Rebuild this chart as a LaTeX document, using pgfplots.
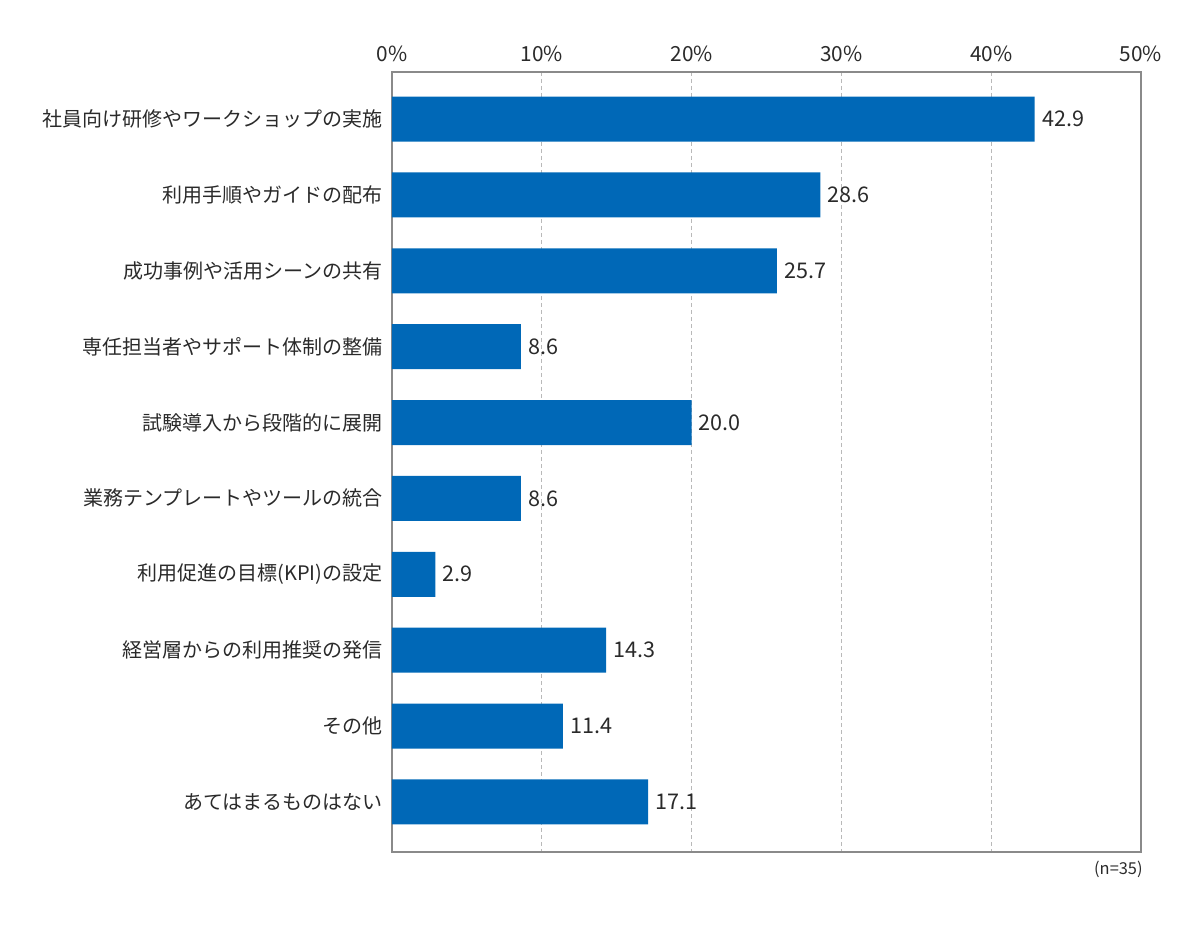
\documentclass[border=0pt]{standalone}
\usepackage{pgfplots}
\pgfplotsset{compat=1.18}
\usepackage{fontspec}
\setmainfont{Noto Sans CJK JP}
\definecolor{barblue}{HTML}{0068B7}
\definecolor{txt}{HTML}{2A2A2A}
\definecolor{frame}{HTML}{8A8A8A}
\begin{document}
\begin{tikzpicture}[x=1pt,y=1pt]
\useasboundingbox (0,0) rectangle (600,463);
\begin{axis}[
  at={(196pt,37pt)}, anchor=south west,
  scale only axis, width=374.5pt, height=390pt,
  xbar, bar width=22.5pt,
  xmin=0, xmax=50, ymin=-0.62, ymax=9.66, y dir=reverse,
  ytick={0,...,9},
  yticklabels={社員向け研修やワークショップの実施,利用手順やガイドの配布,成功事例や活用シーンの共有,専任担当者やサポート体制の整備,試験導入から段階的に展開,業務テンプレートやツールの統合,利用促進の目標(KPI)の設定,経営層からの利用推奨の発信,その他,あてはまるものはない},
  xtick={0,10,...,50},
  xticklabel pos=upper,
  xticklabel={\pgfmathprintnumber{\tick}\%},
  /pgf/number format/assume math mode=true,
  major tick length=0pt,
  xmajorgrids, grid style={dash pattern=on 2pt off 1.5pt, gray!55, line width=0.4pt},
  axis line style={frame, line width=0.6pt},
  ticklabel style={font=\fontsize{10pt}{12pt}\selectfont, text=txt},
  xticklabel style={inner sep=0pt, yshift=5pt, font=\fontsize{10.4pt}{12pt}\selectfont},
  yticklabel style={inner sep=0pt, xshift=-4.5pt},
  nodes near coords={\pgfmathprintnumber[fixed,fixed zerofill,precision=1]{\pgfplotspointmeta}},
  nodes near coords style={font=\fontsize{10.8pt}{12pt}\selectfont, text=txt, inner sep=0pt, xshift=3.5pt, anchor=west},
  clip=false,
]
\addplot[draw=none, fill=barblue] coordinates {
(42.9,0) (28.6,1) (25.7,2) (8.6,3) (20.0,4) (8.6,5) (2.9,6) (14.3,7) (11.4,8) (17.1,9)};
\node[anchor=east, inner sep=0pt, font=\fontsize{8.2pt}{9pt}\selectfont, text=txt] at ([xshift=1pt,yshift=-8.5pt]rel axis cs:1,0) {(n=35)};
\end{axis}
\end{tikzpicture}
\end{document}
